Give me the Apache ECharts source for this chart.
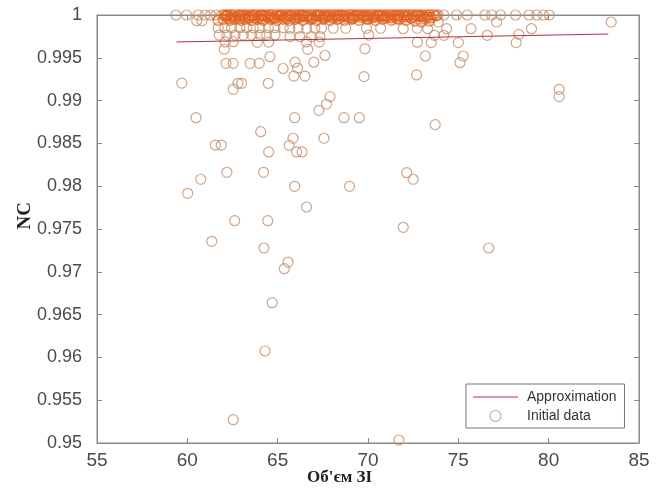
<!DOCTYPE html>
<html>
<head>
<meta charset="utf-8">
<script src="https://cdn.jsdelivr.net/npm/echarts@6/dist/echarts.min.js"></script>
<style>html,body{margin:0;padding:0;background:#fff}#c{width:657px;height:490px}</style>
</head>
<body>
<div id="c"></div>
<script>
// ---- DATA ----
const xTicks = [55, 60, 65, 70, 75, 80, 85];
const yTicks = [0.95, 0.955, 0.96, 0.965, 0.97, 0.975, 0.98, 0.985, 0.99, 0.995, 1];

// NC = 1, left and right of the dense block
const topRowOuterX = [59.37, 59.96, 60.6, 60.98, 61.29, 61.59, 61.9,
  74.2, 74.9, 75.5, 76.47, 76.84, 77.34, 78.17, 78.92, 79.33, 79.7, 80.03];

// NC = 1, dense block
const topRowDenseX = [
  62.05, 62.22, 62.41, 62.55, 62.78, 62.93, 63.12, 63.26, 63.47, 63.66, 63.81, 64.02, 64.18, 64.37,
  64.55, 64.71, 64.93, 65.08, 65.24, 65.45, 65.62, 65.79, 65.97, 66.15, 66.33, 66.48, 66.69, 66.86,
  67.04, 67.21, 67.38, 67.57, 67.73, 67.92, 68.11, 68.27, 68.46, 68.62, 68.84, 69.03, 69.18, 69.37,
  69.56, 69.74, 69.91, 70.12, 70.29, 70.47, 70.66, 70.83, 71.02, 71.19, 71.38, 71.55, 71.74, 71.93,
  72.11, 72.28, 72.46, 72.65, 72.83, 73.02, 73.24, 73.41, 73.63, 73.86];

// NC just below 1 inside the dense block
const denseBand = [
  [62.12, 0.99985], [62.47, 0.99975], [62.86, 0.99985], [63.19, 0.99972], [63.58, 0.99984], [63.94, 0.99976],
  [64.27, 0.99986], [64.63, 0.99973], [65.01, 0.99983], [65.36, 0.99975], [65.72, 0.99986], [66.07, 0.99972],
  [66.42, 0.99984], [66.78, 0.99976], [67.13, 0.99985], [67.49, 0.99973], [67.83, 0.99983], [68.19, 0.99977],
  [68.55, 0.99986], [68.93, 0.99972], [69.27, 0.99984], [69.64, 0.99975], [70.02, 0.99985], [70.38, 0.99973],
  [70.74, 0.99984], [71.11, 0.99976], [71.47, 0.99986], [71.83, 0.99974], [72.19, 0.99983], [72.55, 0.99977],
  [72.91, 0.99984], [73.3, 0.99975],
  [62.3, 0.99962], [62.9, 0.99958], [63.4, 0.99964], [64.1, 0.99957], [64.8, 0.99963], [65.5, 0.99958],
  [66.2, 0.99962], [66.9, 0.99957], [67.6, 0.99963], [68.4, 0.99958], [69.2, 0.99962], [70.0, 0.99957],
  [70.9, 0.99963], [71.6, 0.99958], [72.4, 0.99962], [73.1, 0.99957],
  [62.21, 0.99992], [62.66, 0.99968], [63.04, 0.99991], [63.37, 0.99981], [63.75, 0.99966], [64.12, 0.99993],
  [64.46, 0.99979], [64.84, 0.99967], [65.17, 0.99992], [65.55, 0.99982], [65.9, 0.99966], [66.25, 0.99991],
  [66.6, 0.9998], [66.95, 0.99968], [67.31, 0.99993], [67.66, 0.99979], [68.02, 0.99967], [68.37, 0.99991],
  [68.73, 0.99981], [69.1, 0.99966], [69.45, 0.99992], [69.82, 0.9998], [70.2, 0.99967], [70.56, 0.99993],
  [70.93, 0.99979], [71.29, 0.99968], [71.65, 0.99991], [72.01, 0.99981], [72.37, 0.99966], [72.73, 0.99992],
  [73.09, 0.9998], [73.48, 0.99968], [73.75, 0.99989]
];

const nearTop = [
  [61.7, 0.9994], [62.0, 0.9995], [62.35, 0.9994], [62.6, 0.9995],
  [62.95, 0.9994], [63.2, 0.9995], [63.55, 0.9994], [63.9, 0.9995], [64.2, 0.9994], [64.6, 0.9995],
  [64.95, 0.9994], [65.3, 0.9995], [65.65, 0.9994], [66.0, 0.9995], [66.4, 0.9994], [66.8, 0.9995],
  [67.15, 0.9994], [67.5, 0.9995], [67.9, 0.9994], [68.3, 0.9995], [68.7, 0.9994], [69.1, 0.9995],
  [69.5, 0.9994], [69.95, 0.9995], [70.4, 0.9994], [70.8, 0.9995], [71.3, 0.9994], [71.7, 0.9995],
  [72.1, 0.9994], [72.6, 0.9993], [72.95, 0.9992], [73.4, 0.9993]
];

const nearTopOuter = [[60.52, 0.99933], [60.81, 0.99933], [73.89, 0.99918], [77.12, 0.99918], [83.46, 0.99918]];

const upperBand = [
  [61.71, 0.99852], [62.08, 0.99852], [62.45, 0.99852], [62.91, 0.99852], [63.28, 0.99852], [63.65, 0.99852],
  [64.02, 0.99852], [64.48, 0.99852], [64.85, 0.99852], [65.31, 0.99852], [65.68, 0.99845], [66.14, 0.99845],
  [66.6, 0.99845], [67.06, 0.99845], [67.43, 0.99845], [68.08, 0.99845], [68.77, 0.99845], [69.92, 0.99845],
  [70.7, 0.99845], [71.95, 0.9984], [72.73, 0.99845], [73.3, 0.9984], [74.35, 0.9984], [75.7, 0.9984],
  [79.05, 0.9984],
  [61.77, 0.99766], [62.18, 0.99766], [62.64, 0.99766], [63.1, 0.99766], [63.56, 0.99766], [64.02, 0.99766],
  [64.39, 0.99766], [64.85, 0.99766], [65.68, 0.99747], [66.23, 0.99747], [66.88, 0.99747], [67.34, 0.99747],
  [70.04, 0.99766], [73.68, 0.99763], [74.2, 0.99763], [76.6, 0.99763], [78.35, 0.99774],
  [62.1, 0.99685], [62.54, 0.99688], [63.87, 0.99681], [64.5, 0.99684], [66.6, 0.99685], [67.3, 0.99683],
  [72.73, 0.99682], [73.5, 0.99677], [75.0, 0.99677], [78.2, 0.99677]
];

const midBand = [
  [62.05, 0.9960], [66.66, 0.99599], [69.83, 0.99605],
  [64.57, 0.99513], [67.62, 0.99527], [73.18, 0.99521], [75.27, 0.99521],
  [62.14, 0.99435], [62.54, 0.99435], [63.47, 0.99435], [63.98, 0.99435], [65.96, 0.99449], [67.0, 0.99449],
  [75.09, 0.99443],
  [65.3, 0.99375], [66.1, 0.9938],
  [65.9, 0.99287], [66.51, 0.99287], [69.78, 0.9928], [72.69, 0.993],
  [59.69, 0.99204], [62.8, 0.99202], [63.0, 0.99202], [64.48, 0.99202],
  [62.54, 0.99132], [80.58, 0.99132], [67.9, 0.99046], [80.58, 0.99046],
  [67.7, 0.9896], [67.28, 0.98886]
];

const lowerBand = [
  [60.48, 0.988], [65.94, 0.988], [68.67, 0.988], [69.52, 0.988],
  [73.72, 0.98719], [64.06, 0.98637], [65.85, 0.9856], [67.56, 0.9856],
  [61.55, 0.98481], [61.88, 0.98481], [65.64, 0.98477],
  [64.5, 0.984], [66.05, 0.984], [66.35, 0.984],
  [62.19, 0.98162], [64.22, 0.98162], [72.14, 0.98158],
  [60.74, 0.98081], [72.5, 0.98081],
  [65.94, 0.97999], [68.98, 0.97999], [60.02, 0.97917],
  [66.6, 0.97757], [62.62, 0.97597], [64.45, 0.97597], [71.95, 0.9752],
  [61.35, 0.97356], [64.24, 0.97278], [76.68, 0.97278],
  [65.57, 0.97114], [65.37, 0.97036], [64.7, 0.96639], [64.3, 0.96075],
  [62.54, 0.95272], [71.71, 0.95035]
];

const approxX = [59.4, 83.3];
const approxY = [0.99685, 0.99778];

// ---- build ----
const topData = topRowDenseX.map(x => [x, 1]).concat(denseBand, nearTop);
const restData = topRowOuterX.map(x => [x, 1]).concat(nearTopOuter, upperBand, midBand, lowerBand);
const lineData = approxX.map((x, i) => [x, approxY[i]]);

const axisCol = '#8a8a8a';
const labCol = '#4a4a4a';
const chart = echarts.init(document.getElementById('c'), null, {renderer: 'canvas'});
const circleStyle = {color: 'rgba(0,0,0,0)', borderColor: 'rgb(198,142,104)', borderWidth: 1.2};
const denseStyle = {color: 'rgba(0,0,0,0)', borderColor: 'rgba(226,96,30,0.9)', borderWidth: 1.5};
const lineCol = '#b3303e';

chart.setOption({
  animation: false,
  backgroundColor: '#fff',
  grid: {left: 97, right: 18, top: 15, bottom: 47, show: true, borderColor: axisCol, borderWidth: 1},
  xAxis: [{
    type: 'value', min: 55, max: 85, interval: 5, position: 'bottom',
    axisLine: {show: true, lineStyle: {color: axisCol}},
    axisTick: {show: true, inside: true, length: 5, lineStyle: {color: axisCol}},
    axisLabel: {color: labCol, fontSize: 19, fontFamily: 'Liberation Sans', margin: 8},
    splitLine: {show: false}
  }, {
    type: 'value', min: 55, max: 85, interval: 5, position: 'top',
    axisLine: {show: true, lineStyle: {color: axisCol}},
    axisTick: {show: true, inside: true, length: 5, lineStyle: {color: axisCol}},
    axisLabel: {show: false}, splitLine: {show: false}
  }],
  yAxis: [{
    type: 'value', min: 0.95, max: 1, interval: 0.005, position: 'left',
    axisLine: {show: true, lineStyle: {color: axisCol}},
    axisTick: {show: true, inside: true, length: 5, lineStyle: {color: axisCol}},
    axisLabel: {color: labCol, fontSize: 18, fontFamily: 'Liberation Sans', margin: 15,
      formatter: v => String(+v.toFixed(3))},
    splitLine: {show: false}
  }, {
    type: 'value', min: 0.95, max: 1, interval: 0.005, position: 'right',
    axisLine: {show: true, lineStyle: {color: axisCol}},
    axisTick: {show: true, inside: true, length: 5, lineStyle: {color: axisCol}},
    axisLabel: {show: false}, splitLine: {show: false}
  }],
  legend: {
    orient: 'vertical', left: 466, top: 384,
    padding: [6, 8, 5, 7], itemGap: 5, itemWidth: 45, itemHeight: 11,
    borderColor: '#777', borderWidth: 1, backgroundColor: '#fff',
    textStyle: {fontSize: 14, color: '#333', fontFamily: 'Liberation Sans', padding: [0, 0, 0, 4]},
    data: [
      {name: 'Approximation', icon: 'path://M0,0 H45 V1 H0 Z', itemStyle: {color: lineCol, borderWidth: 0}},
      {name: 'Initial data', icon: 'circle', itemStyle: circleStyle}
    ]
  },
  series: [{
    name: 'Initial data', type: 'scatter',
    symbol: 'circle', symbolSize: 10, clip: false,
    itemStyle: circleStyle,
    data: restData, z: 2
  }, {
    name: 'Initial data', type: 'scatter',
    symbol: 'circle', symbolSize: 10, clip: false,
    itemStyle: denseStyle,
    data: topData, z: 2
  }, {
    name: 'Approximation', type: 'line',
    symbol: 'none', lineStyle: {color: lineCol, width: 1},
    itemStyle: {color: lineCol},
    data: lineData, z: 3
  }],
  graphic: [{
    type: 'text', left: 16, top: 202, rotation: Math.PI / 2,
    style: {text: 'NC', font: 'bold 19px "Liberation Serif"', fill: '#222'}
  }, {
    type: 'text', left: 307, top: 469,
    style: {text: "Об'єм ЗІ", font: 'bold 17px "Liberation Serif"', fill: '#222'}
  }]
});
</script>
</body>
</html>
